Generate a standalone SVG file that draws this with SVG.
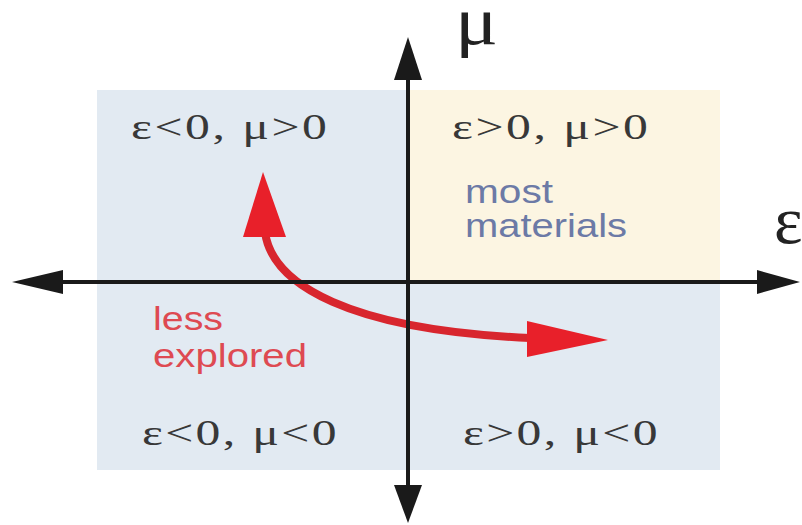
<svg xmlns="http://www.w3.org/2000/svg" width="802" height="525" viewBox="0 0 802 525">
<style>
.q{font-family:"Liberation Serif","Times New Roman",serif;font-size:36px;fill:#383838}
.ax{font-family:"Liberation Serif","Times New Roman",serif;fill:#222}
.s{font-family:"Liberation Sans",Arial,sans-serif;font-size:33px}
.blue{fill:#6c7aa6}
.red{fill:#de4a52}
.axis{stroke:#1a1a1a;stroke-width:4;fill:none}
.head{fill:#1a1a1a}
.rh{fill:#e8202a}
</style>
<rect width="802" height="525" fill="#fff"/>
<g id="quadrant-bg">
<rect x="97" y="90" width="623" height="380" fill="#e2eaf2"/>
<rect x="410" y="90" width="310" height="192" fill="#fcf5e2"/>
</g>
<g id="q-nw"><text class="q" transform="translate(131,139) scale(1.38,1)" textLength="142" lengthAdjust="spacing">ε&lt;0, μ&gt;0</text></g>
<g id="q-ne"><text class="q" transform="translate(452,139) scale(1.38,1)" textLength="142" lengthAdjust="spacing">ε&gt;0, μ&gt;0</text>
<text class="s blue" x="465" y="203" textLength="88" lengthAdjust="spacingAndGlyphs">most</text>
<text class="s blue" x="465" y="237" textLength="162" lengthAdjust="spacingAndGlyphs">materials</text></g>
<g id="q-sw"><text class="q" transform="translate(142,445) scale(1.38,1)" textLength="141" lengthAdjust="spacing">ε&lt;0, μ&lt;0</text>
<text class="s red" x="153" y="330" textLength="70" lengthAdjust="spacingAndGlyphs">less</text>
<text class="s red" x="153" y="367" textLength="154" lengthAdjust="spacingAndGlyphs">explored</text></g>
<g id="q-se"><text class="q" transform="translate(463,445) scale(1.38,1)" textLength="141" lengthAdjust="spacing">ε&gt;0, μ&lt;0</text></g>
<g id="connectors">
<path d="M265,232 C272,285 350,330 530,338" fill="none" stroke="#d8262e" stroke-width="8"/>
<polygon class="rh" points="263,172 243,237 286,237"/>
<polygon class="rh" points="608,340 527,321 527,357"/>
<line class="axis" x1="55" y1="282" x2="765" y2="282"/>
<line class="axis" x1="408" y1="75" x2="408" y2="490"/>
<polygon class="head" points="12,282 63,270 63,294"/>
<polygon class="head" points="800,282 757,270 757,294"/>
<polygon class="head" points="408,37 394,80 422,80"/>
<polygon class="head" points="408,523 394,485 422,485"/>
</g>
<g id="axis-labels">
<text class="ax" x="455" y="44" font-size="68" textLength="43" lengthAdjust="spacingAndGlyphs">μ</text>
<text class="ax" x="774" y="243" font-size="68">ε</text>
</g>
</svg>
